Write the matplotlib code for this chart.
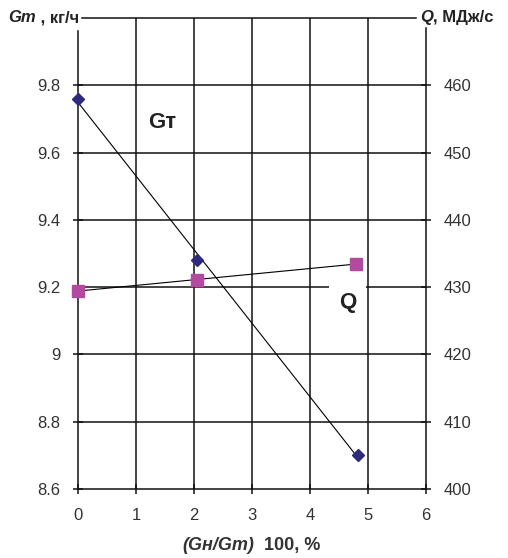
import matplotlib
matplotlib.use("Agg")
import matplotlib.pyplot as plt
import numpy as np

# Data
x_gt = [0.0, 2.06, 4.83]
gt_vals = [9.76, 9.28, 8.70]
x_q = [0.0, 2.06, 4.80]
q_vals = [429.5, 431.0, 433.5]

x_ticks = [0, 1, 2, 3, 4, 5, 6]
left_ticks = [8.6, 8.8, 9.0, 9.2, 9.4, 9.6, 9.8]
left_labels = ["8.6", "8.8", "9", "9.2", "9.4", "9.6", "9.8"]
right_ticks = [400, 410, 420, 430, 440, 450, 460]

plt.rcParams['font.family'] = ['Liberation Sans', 'DejaVu Sans']

fig = plt.figure(figsize=(5.08, 5.58), dpi=100)
ax = fig.add_axes([0.1535, 0.1237, 0.6851, 0.8440])
ax.set_xlim(0, 6)
ax.set_ylim(8.6, 10.0)
ax2 = ax.twinx()
ax2.set_ylim(400, 470)

grid_c = '#111111'
# gridlines
for xv in x_ticks[1:-1]:
    ax.plot([xv, xv], [8.6, 10.0], color=grid_c, lw=1.1, zorder=1)
for yv in left_ticks[1:]:
    ax.plot([0, 6], [yv, yv], color=grid_c, lw=1.1, zorder=1)
ax.plot([0.07, 5.82], [10.0, 10.0], color=grid_c, lw=1.1, zorder=1, clip_on=False)

for a in (ax, ax2):
    a.spines['top'].set_visible(False)
    for s in ('left', 'right', 'bottom'):
        a.spines[s].set_linewidth(1.1)
        a.spines[s].set_color(grid_c)
ax.spines['left'].set_bounds(8.6, 9.96)
ax2.spines['right'].set_bounds(400, 468.5)
ax2.spines['left'].set_visible(False)
ax2.spines['bottom'].set_visible(False)
ax.spines['right'].set_visible(False)

ax.set_xticks(x_ticks)
ax.set_xticklabels([str(v) for v in x_ticks])
ax.set_yticks(left_ticks)
ax.set_yticklabels(left_labels)
ax2.set_yticks(right_ticks)
ax2.set_yticklabels([str(v) for v in right_ticks])
ax.tick_params(axis='x', direction='inout', length=7, width=1.1, pad=10,
               labelsize=12, labelcolor='#333333', color=grid_c)
ax.tick_params(axis='y', direction='inout', length=7, width=1.1, pad=9,
               labelsize=12, labelcolor='#333333', color=grid_c)
ax2.tick_params(axis='y', direction='inout', length=7, width=1.1, pad=9,
                labelsize=12, labelcolor='#333333', color=grid_c)

# Gт series with linear trend
p = np.polyfit(x_gt, gt_vals, 1)
xs = np.array([x_gt[0], x_gt[-1]])
ax.plot(xs, np.polyval(p, xs), color='black', lw=0.8, zorder=3)
ax.plot(x_gt, gt_vals, linestyle='none', marker='D', markersize=6.5,
        color='#2d2a7e', zorder=4, clip_on=False)

# Q series with linear trend
pq = np.polyfit(x_q, q_vals, 1)
xq = np.array([x_q[0], x_q[-1]])
ax2.plot(xq, np.polyval(pq, xq), color='black', lw=0.8, zorder=3)
ax2.plot(x_q, q_vals, linestyle='none', marker='s', markersize=8,
         color='#b24aa0', zorder=4, clip_on=False)

# Series labels
ax.text(1.45, 9.69, 'Gт', fontsize=16, fontweight='bold', color='#222222',
        ha='center', va='center', zorder=5)
ax.text(4.65, 9.155, 'Q', fontsize=16, fontweight='bold', color='#222222',
        ha='center', va='center', zorder=5,
        bbox=dict(boxstyle='square,pad=0.45', facecolor='white', edgecolor='none'))

# Axis titles at top
tg = fig.text(0.0157, 0.968, 'Gm', fontsize=12, fontweight='bold', style='italic',
              color='#222222', ha='left', va='center')
ax.annotate(' , кг/ч', xy=(1, 0.5), xycoords=tg, xytext=(0, 0),
            textcoords='offset points', fontsize=12, fontweight='bold',
            color='#222222', ha='left', va='center')
tq = fig.text(0.828, 0.968, 'Q', fontsize=12, fontweight='bold', style='italic',
              color='#222222', ha='left', va='center')
ax.annotate(', МДж/с', xy=(1, 0.5), xycoords=tq, xytext=(0, 0),
            textcoords='offset points', fontsize=12, fontweight='bold',
            color='#222222', ha='left', va='center')

# x label
fig.text(0.500, 0.008, '(Gн/Gm)', fontsize=13, fontweight='bold',
         style='italic', color='#333333', ha='right', va='bottom')
fig.text(0.52, 0.008, '100, %', fontsize=13, fontweight='bold',
         color='#333333', ha='left', va='bottom')

fig.savefig('out.png', dpi=100, facecolor='white')
